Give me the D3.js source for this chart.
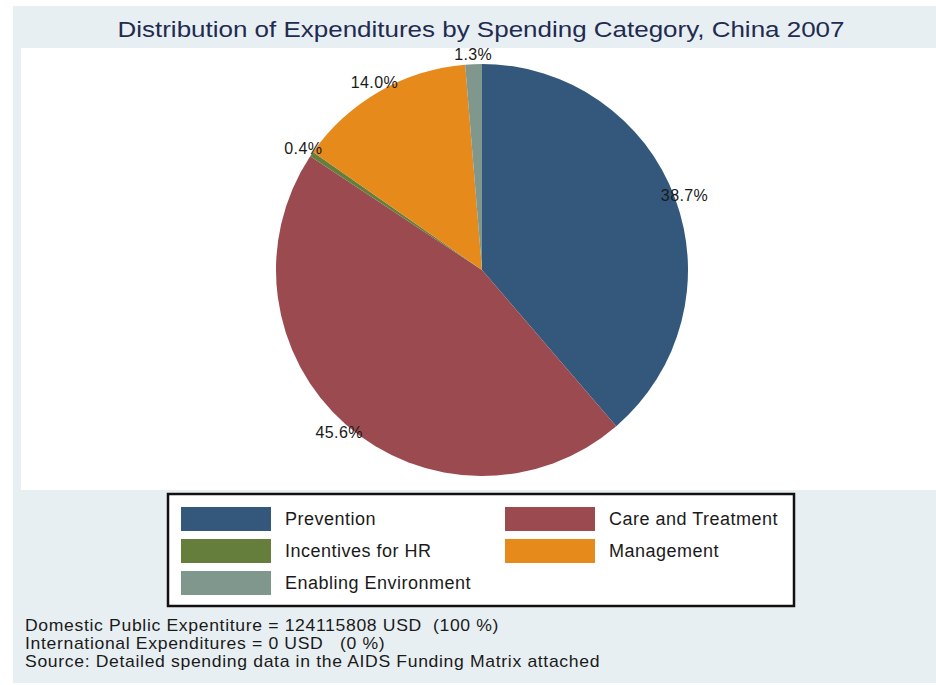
<!DOCTYPE html>
<html>
<head>
<meta charset="utf-8">
<script src="https://cdn.jsdelivr.net/npm/d3@7"></script>
<style>
  html, body { margin: 0; padding: 0; background: #ffffff; }
  svg { display: block; font-family: "Liberation Sans", Arial, Helvetica, sans-serif; }
  text { white-space: pre; }
</style>
</head>
<body>
<svg id="chart" width="936" height="685"></svg>
<script>
// Spending categories and their share of total expenditure (%)
const categories = ["Prevention", "Care and Treatment", "Incentives for HR", "Management", "Enabling Environment"];
const shares = [38.7, 45.6, 0.4, 14.0, 1.3];
const sliceColors = ["#33587c", "#9b4a50", "#667e3c", "#e68a1b", "#7f978d"];

const titleText = "Distribution of Expenditures by Spending Category, China 2007";
const noteLines = [
  "Domestic Public Expentiture = 124115808 USD  (100 %)",
  "International Expenditures = 0 USD   (0 %)",
  "Source: Detailed spending data in the AIDS Funding Matrix attached"
];

const svg = d3.select("#chart");

// Outer graph region and white plot region
svg.append("rect").attr("x", 13).attr("y", 6).attr("width", 923).attr("height", 677).attr("fill", "#e8eff2");
svg.append("rect").attr("x", 21).attr("y", 48).attr("width", 915).attr("height", 442).attr("fill", "#ffffff");

// Title
svg.append("text")
  .attr("x", 481).attr("y", 37)
  .attr("text-anchor", "middle")
  .attr("font-size", 22)
  .attr("fill", "#1f2b50")
  .attr("textLength", 727).attr("lengthAdjust", "spacingAndGlyphs")
  .text(titleText);

// Pie
const cx = 482, cy = 270, radius = 206, labelRadius = 216;
const color = d3.scaleOrdinal().domain(categories).range(sliceColors);
const pie = d3.pie().value(d => d.value).sort(null);
const data = categories.map((c, i) => ({ name: c, value: shares[i] }));
const arcs = pie(data);
const arc = d3.arc().innerRadius(0).outerRadius(radius);

const g = svg.append("g").attr("transform", `translate(${cx},${cy})`);
g.selectAll("path.slice")
  .data(arcs)
  .join("path")
  .attr("class", "slice")
  .attr("d", arc)
  .attr("fill", d => color(d.data.name));

const labelArc = d3.arc().innerRadius(labelRadius).outerRadius(labelRadius);
g.selectAll("text.pct")
  .data(arcs)
  .join("text")
  .attr("class", "pct")
  .attr("transform", d => `translate(${labelArc.centroid(d)})`)
  .attr("text-anchor", "middle")
  .attr("dy", "0.35em")
  .attr("font-size", 16)
  .attr("letter-spacing", 0.4)
  .attr("fill", "#1a1a1a")
  .text(d => d.data.value.toFixed(1) + "%");

// Legend
const legend = svg.append("g");
legend.append("rect")
  .attr("x", 168).attr("y", 494).attr("width", 626).attr("height", 112)
  .attr("fill", "#ffffff").attr("stroke", "#111111").attr("stroke-width", 2.5);

const colX = [181, 505];
const rowY = [507, 539, 571];
const item = legend.selectAll("g.item")
  .data(categories)
  .join("g")
  .attr("class", "item")
  .attr("transform", (d, i) => `translate(${colX[i % 2]},${rowY[Math.floor(i / 2)]})`);
item.append("rect")
  .attr("width", 90).attr("height", 24)
  .attr("fill", d => color(d));
item.append("text")
  .attr("x", 104).attr("y", 12).attr("dy", "0.35em")
  .attr("font-size", 18)
  .attr("letter-spacing", 0.5)
  .attr("fill", "#1a1a1a")
  .text(d => d);

// Footnotes (slightly widened lettering)
svg.append("g").selectAll("text")
  .data(noteLines)
  .join("text")
  .attr("transform", (d, i) => `translate(25,${631 + i * 18}) scale(1.1,1)`)
  .attr("font-size", 16)
  .attr("letter-spacing", 0.6)
  .attr("fill", "#1a1a1a")
  .text(d => d);
</script>
</body>
</html>
